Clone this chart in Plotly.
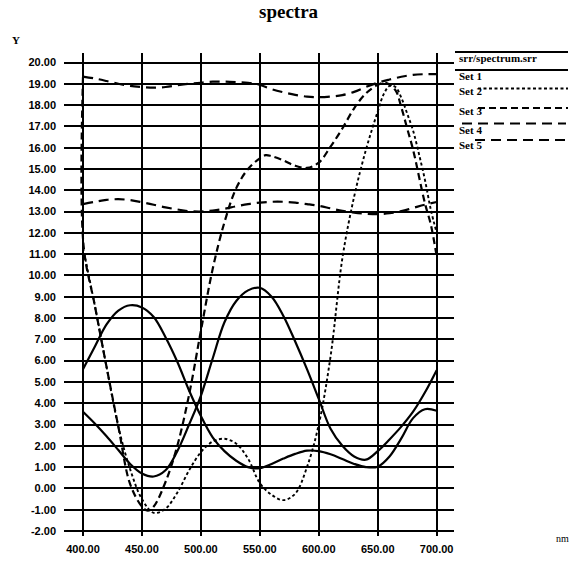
import plotly.graph_objects as go

W, H = 572, 561

# ---------------- data ----------------
wl = [400, 410, 420, 430, 440, 450, 460, 470, 480, 490, 500, 510, 520, 530, 540, 550,
      560, 570, 580, 590, 600, 610, 620, 630, 640, 650, 660, 670, 680, 690, 700]

srr_y = [5.6, 6.65, 7.7, 8.35, 8.6, 8.5, 8.05, 7.1, 5.95, 4.6, 3.4, 2.4, 1.75, 1.3, 1.0, 0.95,
         1.15, 1.4, 1.62, 1.77, 1.75, 1.6, 1.38, 1.15, 1.0, 1.02, 1.5, 2.35, 3.3, 3.72, 3.65]

set1_y = [3.6, 3.05, 2.45, 1.8, 1.15, 0.7, 0.56, 0.85, 1.75, 3.0, 4.35, 6.1, 7.8, 8.8, 9.3, 9.42,
          9.0, 8.1, 6.9, 5.6, 4.2, 2.8, 2.0, 1.5, 1.35, 1.75, 2.3, 2.9, 3.6, 4.5, 5.55]

set2_x = [400, 410, 420, 430, 440, 450, 460, 470, 480, 490, 500, 510, 520, 530, 540, 550,
          560, 570, 580, 590, 600, 610, 620, 630, 640, 650, 655, 660, 665, 670, 675, 680,
          685, 690, 695, 700]
set2_y = [11.3, 8.6, 5.7, 2.9, 0.9, -0.5, -1.15, -0.95, -0.2, 0.85, 1.7, 2.2, 2.33, 2.1, 1.4, 0.25,
          -0.3, -0.55, -0.25, 1.0, 3.0, 6.2, 10.8, 13.7, 15.9, 17.7, 18.5, 18.9, 18.85, 18.35, 17.6, 16.8,
          15.7, 14.5, 13.1, 12.0]

set3_x = [400, 400.5, 410, 420, 430, 440, 450, 455, 460, 470, 480, 490, 500, 510, 520, 530,
          540, 550, 555, 560, 570, 580, 590, 600, 610, 620, 630, 640, 650, 657, 665, 670,
          675, 680, 690, 695, 700]
set3_y = [19.3, 11.4, 8.6, 5.7, 2.9, 0.2, -0.85, -1.05, -0.85, 0.3, 2.0, 4.4, 7.4, 10.3, 12.5, 14.1,
          15.0, 15.5, 15.65, 15.6, 15.4, 15.15, 15.05, 15.3, 16.05, 16.9, 17.85, 18.55, 18.95, 19.05, 18.7, 17.9,
          16.9, 15.9, 13.4, 12.4, 10.9]

set4_y = [13.35, 13.46, 13.55, 13.58, 13.54, 13.44, 13.32, 13.2, 13.1, 13.02, 13.0, 13.05, 13.13, 13.25,
          13.35, 13.42, 13.46, 13.46, 13.42, 13.35, 13.27, 13.15, 13.03, 12.95, 12.9, 12.88, 12.92,
          13.02, 13.17, 13.32, 13.45]

set5_y = [19.34, 19.25, 19.13, 19.0, 18.9, 18.85, 18.82, 18.85, 18.93, 19.0, 19.05, 19.1, 19.1, 19.08,
          19.05, 18.95, 18.75, 18.6, 18.48, 18.4, 18.37, 18.4, 18.47, 18.62, 18.85, 19.05, 19.2, 19.33,
          19.42, 19.45, 19.45]

legend_names = ["srr/spectrum.srr", "Set 1", "Set 2", "Set 3", "Set 4", "Set 5"]
y_ticks = list(range(-2, 21))
x_ticks = [400, 450, 500, 550, 600, 650, 700]

# ---------------- styles ----------------
styles = {
    "srr/spectrum.srr": dict(dash="solid", width=2.2),
    "Set 1": dict(dash="solid", width=2.2),
    "Set 2": dict(dash="3px,2.5px", width=1.9),
    "Set 3": dict(dash="7px,4px", width=2.2),
    "Set 4": dict(dash="10px,6px", width=2.2),
    "Set 5": dict(dash="10px,6px", width=2.2),
}

series = [
    ("srr/spectrum.srr", wl, srr_y),
    ("Set 1", wl, set1_y),
    ("Set 2", set2_x, set2_y),
    ("Set 3", set3_x, set3_y),
    ("Set 4", wl, set4_y),
    ("Set 5", wl, set5_y),
]

fig = go.Figure()
for name, xs, ys in series:
    st = styles[name]
    fig.add_trace(go.Scatter(
        x=xs, y=ys, mode="lines", name=name, showlegend=False,
        line=dict(color="black", width=st["width"], dash=st["dash"],
                  shape="spline", smoothing=1.0),
        hoverinfo="skip"))


def px(x):
    return x / W


def py(y):
    return 1 - y / H


tickfont = dict(family="Liberation Sans, Arial, sans-serif", size=11, color="black", weight="bold")

fig.update_layout(
    width=W, height=H, autosize=False,
    margin=dict(l=0, r=0, t=0, b=0, pad=0),
    paper_bgcolor="white", plot_bgcolor="white",
    xaxis=dict(domain=[px(64), px(454)], range=[383.9, 714.7],
               tickvals=x_ticks, ticktext=[f"{v:.2f}" for v in x_ticks],
               showgrid=True, gridcolor="black", gridwidth=1.6,
               zeroline=False, showline=False, ticks="",
               tickfont=tickfont, ticklabelstandoff=5),
    yaxis=dict(domain=[py(536), py(53)], range=[-2.235, 20.446],
               tickvals=y_ticks, ticktext=[f"{v:.2f}" for v in y_ticks],
               showgrid=True, gridcolor="black", gridwidth=1.6,
               zeroline=False, showline=False, ticks="",
               tickfont=tickfont, ticklabelstandoff=7),
    showlegend=False,
)

serif = "Liberation Serif, Times New Roman, serif"
annotations = [
    dict(text="<b>spectra</b>", x=px(289), y=py(12), xref="paper", yref="paper",
         showarrow=False, font=dict(family=serif, size=19, color="black"),
         xanchor="center", yanchor="middle"),
    dict(text="<b>Y</b>", x=px(16), y=py(40), xref="paper", yref="paper",
         showarrow=False, font=dict(family=serif, size=11, color="black"),
         xanchor="center", yanchor="middle"),
    dict(text="nm", x=px(562), y=py(538), xref="paper", yref="paper",
         showarrow=False, font=dict(family=serif, size=10, color="black"),
         xanchor="center", yanchor="middle"),
]

# legend block (text + line samples)
leg_text_y = [58.5, 76, 91, 111, 130, 145]
leg_line = [(455, 568, 52), (455, 568, 70), (478, 568, 88.5), (478, 568, 108), (462, 566, 123.5), (475, 568, 140)]
shapes = []
for name, ty, (x0, x1, ly) in zip(legend_names, leg_text_y, leg_line):
    annotations.append(dict(text=f"<b>{name}</b>", x=px(457), y=py(ty), xref="paper", yref="paper",
                            showarrow=False, font=dict(family=serif, size=11, color="black"),
                            xanchor="left", yanchor="middle"))
    st = styles[name]
    shapes.append(dict(type="line", xref="paper", yref="paper",
                       x0=px(x0), x1=px(x1), y0=py(ly), y1=py(ly),
                       line=dict(color="black", width=st["width"], dash=st["dash"])))

fig.update_layout(annotations=annotations, shapes=shapes)

fig.write_html("out.html", config={"displayModeBar": False},
               post_script="document.body.style.margin='0';document.body.style.overflow='hidden';")
